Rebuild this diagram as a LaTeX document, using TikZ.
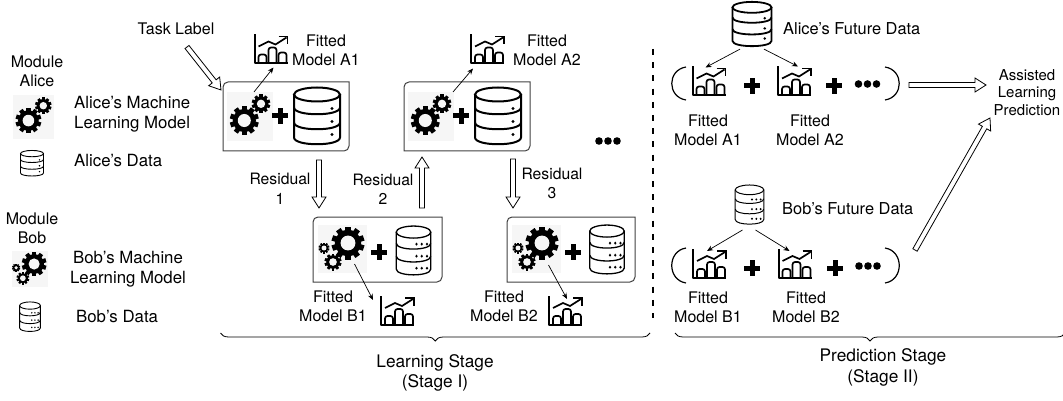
\documentclass[tikz,border=0pt]{standalone}
\usepackage{fontspec}
\setmainfont{TeX Gyre Heros}
\usetikzlibrary{arrows.meta,calc,decorations.pathreplacing}
\definecolor{gearbg}{HTML}{F6F6F6}
\newcommand{\gearat}[4]{
\begin{scope}[shift={(#1,#2)}]
\foreach \a in {0,36,...,324} \fill[rotate=\a] ({-.17*#3},{-#3}) rectangle ({.17*#3},0);
\fill (0,0) circle ({.8*#3});
\fill[#4] (0,0) circle ({.45*#3});
\end{scope}
}
\newcommand{\dbbody}{
\node[iconbox, minimum width=48, minimum height=58] (-box) at (0,0) {};
\draw (0,-22) ellipse [x radius=23, y radius=7];
\draw (-23,-22) -- (-23,21) .. controls (-23,30) and (23,30) .. (23,21) -- (23,-22);
\draw (-23,-9) .. controls (-23,0) and (23,0) .. (23,-9);
\draw (-23,6) .. controls (-23,15) and (23,15) .. (23,6);
}
\tikzset{
lbl/.style={font=\fontsize{16}{19.5}\selectfont, align=center, inner sep=0pt},
lblsize/.style n args={2}{font=\fontsize{#1}{#2}\selectfont},
lblleft/.style={lbl, align=left, anchor=west},
iconbox/.style={inner sep=0pt, outer sep=0pt, transform shape},
panelline/.style={line width=1pt, draw=black!75},
thinarrow/.style={-{Stealth[length=6pt,width=5pt]}, line width=.7pt},
blockarrow/.style={line width=.8pt, to path={
($(\tikztostart)!2.5pt!90:(\tikztotarget)$)
-- ($($(\tikztotarget)!11pt!(\tikztostart)$)!2.5pt!-90:(\tikztostart)$)
-- ($($(\tikztotarget)!11pt!(\tikztostart)$)!7pt!-90:(\tikztostart)$)
-- (\tikztotarget)
-- ($($(\tikztotarget)!11pt!(\tikztostart)$)!7pt!90:(\tikztostart)$)
-- ($($(\tikztotarget)!11pt!(\tikztostart)$)!2.5pt!90:(\tikztostart)$)
-- ($(\tikztostart)!2.5pt!-90:(\tikztotarget)$)
-- cycle}},
parenline/.style={line width=1.2pt},
pics/gearsalice/.style={code={
\node[iconbox, fill=gearbg, minimum width=46, minimum height=49] (-box) at (0,0) {};
\gearat{-5.7}{4}{14.5}{gearbg}
\gearat{11}{-12.7}{9.3}{gearbg}
}},
pics/gearsbob/.style={code={
\node[iconbox, fill=gearbg, minimum width=49, minimum height=48] (-box) at (0,0) {};
\gearat{5.5}{-6}{16.5}{gearbg}
\gearat{-9.5}{13}{8.5}{gearbg}
\gearat{-18.5}{-1}{5.5}{gearbg}
}},
pics/chart/.style={code={
\node[iconbox, minimum width=34, minimum height=30] (-box) at (0,0) {};
\draw[line width=2pt, line join=round] (-16,-15) -- (-16,14) -- (17,14);
\draw[line width=1.7pt, rounded corners=2.5pt] (-12,14) -- (-12,5) -- (-4,5) -- (-4,14);
\draw[line width=1.7pt, rounded corners=2.5pt] (-2,14) -- (-2,-2) -- (6,-2) -- (6,14);
\draw[line width=1.7pt, rounded corners=2.5pt] (8,14) -- (8,3) -- (16,3) -- (16,14);
\draw[line width=1.7pt] (-12,-3) -- (-2,-8) -- (5,-5) -- (16,-12);
\draw[line width=1.7pt] (8,-13) -- (17,-13) -- (17,-5);
}},
pics/dbone/.style={code={
\dbbody
\foreach \y in {-8,5,18} \fill (15,\y) circle (1.7);
}},
pics/dbthree/.style={code={
\dbbody
\foreach \y in {-8,6,20} \foreach \x in {4,11,18} \fill (\x,\y) circle (1.7);
}},
pics/plusmark/.style={code={
\node[iconbox, minimum width=16, minimum height=16] (-box) at (0,0) {};
\fill (-8,-2.5) rectangle (8,2.5);
\fill (-2.5,-8) rectangle (2.5,8);
}},
pics/dotsmark/.style={code={
\node[iconbox, minimum width=26, minimum height=8] (-box) at (0,0) {};
\foreach \x in {-9,0,9} \fill (\x,0) circle (3.8);
}}
}
\newcommand{\panelbox}[5]{
\node[iconbox, minimum width=#4, minimum height=#5] (#1) at (#2,#3) {};
\draw[panelline] (#1.south west) [rounded corners=5pt] -- (#1.north west) [sharp corners] -- (#1.north east) [rounded corners=5pt] -- (#1.south east) [sharp corners] -- cycle;
}
\begin{document}
\begin{tikzpicture}[x=1pt, y=-1pt]
\useasboundingbox (0,0) rectangle (1063,401);

\node[lbl] (tasklabel) at (176,29) {Task Label};
\node[lbl] (modalice) at (37,71.5) {Module\\Alice};
\pic[scale=.89] (legalicegear) at (33.5,117) {gearsalice};
\node[lblleft, lblsize={16.8}{20.5}] (legalicemodel) at (74,114) {Alice's Machine\\Learning Model};
\pic[xscale=.5, yscale=.45, line width=.9pt] (legalicedb) at (32,163.5) {dbone};
\node[lbl, lblsize={16.8}{20.5}, anchor=west] (legalicedata) at (74,161) {Alice's Data};

\node[lbl] (modbob) at (32,228.5) {Module\\Bob};
\pic[scale=.75] (legbobgear) at (30,268.5) {gearsbob};
\node[lbl, lblsize={16.8}{20.5}] (legbobmodel) at (128,269) {Bob's Machine\\Learning Model};
\pic[xscale=.45, yscale=.52, line width=.9pt] (legbobdb) at (30,317) {dbthree};
\node[lbl, lblsize={16.8}{20.5}, anchor=west] (legbobdata) at (76,317) {Bob's Data};

\panelbox{boxa1}{286}{116.5}{126}{69}
\pic (gearA1) at (250,116.5) {gearsalice};
\pic (plusA1) at (280,116) {plusmark};
\pic[line width=2pt] (dbA1) at (317,116.5) {dbone};
\pic (chartA1) at (270.5,49.5) {chart};
\node[lbl] (fitA1) at (326,50.5) {Fitted\\Model A1};

\panelbox{boxa2}{467}{116.5}{126}{69}
\pic (gearA2) at (431,116.5) {gearsalice};
\pic (plusA2) at (461,116) {plusmark};
\pic[line width=2pt] (dbA2) at (498,116.5) {dbone};
\pic (chartA2) at (487,49.5) {chart};
\node[lbl] (fitA2) at (547,50.5) {Fitted\\Model A2};

\panelbox{boxb1}{377.5}{249.5}{129}{65}
\pic (gearB1) at (342.5,249) {gearsbob};
\pic (plusB1) at (379,252) {plusmark};
\pic[xscale=.75, yscale=.86, line width=1.3pt] (dbB1) at (413.5,251) {dbthree};
\pic (chartB1) at (397,311) {chart};
\node[lbl] (fitB1) at (333,306.5) {Fitted\\Model B1};

\panelbox{boxb2}{571}{249.5}{128}{65}
\pic (gearB2) at (536.5,249) {gearsbob};
\pic (plusB2) at (573,252) {plusmark};
\pic[xscale=.75, yscale=.86, line width=1.3pt] (dbB2) at (607,250) {dbthree};
\pic (chartB2) at (565,311) {chart};
\node[lbl] (fitB2) at (504,306.5) {Fitted\\Model B2};

\pic (dotsmid) at (608,141) {dotsmark};

\coordinate (taskfrom) at (187,47);
\coordinate (taskto) at (221,90);
\draw[blockarrow] (taskfrom) to (taskto);

\coordinate (resa) at (319,160);
\coordinate (resb) at (319,208);
\coordinate (resc) at (422,208);
\coordinate (resd) at (422,157);
\coordinate (rese) at (513,159);
\coordinate (resf) at (513,208);
\draw[blockarrow] (resa) to (resb);
\draw[blockarrow] (resc) to (resd);
\draw[blockarrow] (rese) to (resf);
\node[lbl, lblsize={15.7}{19.5}] (res1) at (280,189) {Residual\\1};
\node[lbl, lblsize={15.7}{19.5}] (res2) at (383,189.5) {Residual\\2};
\node[lbl, lblsize={15.7}{19.5}] (res3) at (552,183.5) {Residual\\3};

\draw[thinarrow] ([xshift=4pt]gearA1-box.north) -- ([xshift=3pt,yshift=-3pt]chartA1-box.south);
\draw[thinarrow] ([xshift=22pt]gearA2-box.north) -- ([xshift=-14pt,yshift=-4pt]chartA2-box.south);
\draw[thinarrow] ([xshift=12pt,yshift=9pt]gearB1-box.south) -- ([xshift=-24pt,yshift=-4pt]chartB1-box.north);
\draw[thinarrow] ([xshift=12pt,yshift=8pt]gearB2-box.south) -- ([xshift=2pt,yshift=-3pt]chartB2-box.north);

\coordinate (divtop) at (653,49);
\coordinate (divbot) at (653,318);
\draw[line width=2pt, dash pattern=on 6pt off 7.2pt] (divtop) -- (divbot);

\pic[xscale=.85, yscale=.78, line width=1.8pt] (dbfutA) at (752,24.5) {dbone};
\node[lbl, lblsize={16.4}{19.5}, anchor=west] (futA) at (783,29) {Alice's Future Data};
\pic (chartfutA1) at (708.5,81.5) {chart};
\pic (chartfutA2) at (794,81.5) {chart};
\pic (plusfutA1) at (752,86) {plusmark};
\pic (plusfutA2) at (834,86) {plusmark};
\pic (dotsfutA) at (867.5,84) {dotsmark};
\draw[parenline] (686,67) .. controls (667,70) and (667,97) .. (686,100);
\draw[parenline] (885,67) .. controls (904,70) and (904,97) .. (885,100);
\node[lbl] (fitfutA1) at (708,130.5) {Fitted\\Model A1};
\node[lbl] (fitfutA2) at (810,130.5) {Fitted\\Model A2};
\draw[thinarrow] ([xshift=-12pt,yshift=-2pt]dbfutA-box.south) -- ([xshift=-3pt,yshift=-1pt]chartfutA1-box.north);
\draw[thinarrow] ([xshift=12pt,yshift=-2pt]dbfutA-box.south) -- ([xshift=4pt]chartfutA2-box.north);

\pic[xscale=.62, yscale=.69, line width=1pt] (dbfutB) at (749.5,205) {dbthree};
\node[lbl, lblsize={16.4}{19.5}, anchor=west] (futB) at (782,209) {Bob's Future Data};
\pic (chartfutB1) at (709,264) {chart};
\pic (chartfutB2) at (794.5,264) {chart};
\pic (plusfutB1) at (752,268) {plusmark};
\pic (plusfutB2) at (835,268) {plusmark};
\pic (dotsfutB) at (868,266) {dotsmark};
\draw[parenline] (686,248) .. controls (667,251) and (667,280) .. (686,283);
\draw[parenline] (885,248) .. controls (904,251) and (904,280) .. (885,283);
\node[lbl] (fitfutB1) at (708,307.5) {Fitted\\Model B1};
\node[lbl] (fitfutB2) at (806,307.5) {Fitted\\Model B2};
\draw[thinarrow] ([xshift=-7pt,yshift=-5pt]dbfutB-box.south) -- ([xshift=-2pt,yshift=-2pt]chartfutB1-box.north);
\draw[thinarrow] ([xshift=6pt,yshift=-5pt]dbfutB-box.south) -- ([xshift=-5pt,yshift=-2pt]chartfutB2-box.north);

\node[lbl, lblsize={15}{17.5}] (assisted) at (1027,92.5) {Assisted\\Learning\\Prediction};
\coordinate (predfrom) at (909,85);
\coordinate (predto) at (986,85);
\draw[blockarrow] (predfrom) to (predto);
\coordinate (longfrom) at (915,250);
\coordinate (longto) at (990,118);
\draw[blockarrow] (longfrom) to (longto);

\coordinate (bracela) at (220.5,333);
\coordinate (bracelb) at (650,333);
\coordinate (bracepa) at (675,333);
\coordinate (bracepb) at (1065,333);
\draw[line width=.8pt, decorate, decoration={brace, mirror, amplitude=8pt}] (bracela) -- (bracelb);
\draw[line width=.8pt, decorate, decoration={brace, mirror, amplitude=8pt}] (bracepa) -- (bracepb);
\node[lbl, lblsize={17.3}{20.5}] (stage1) at (435,373) {Learning Stage\\(Stage I)};
\node[lbl, lblsize={17.3}{20.5}] (stage2) at (883,367.5) {Prediction Stage\\(Stage II)};

\end{tikzpicture}
\end{document}
